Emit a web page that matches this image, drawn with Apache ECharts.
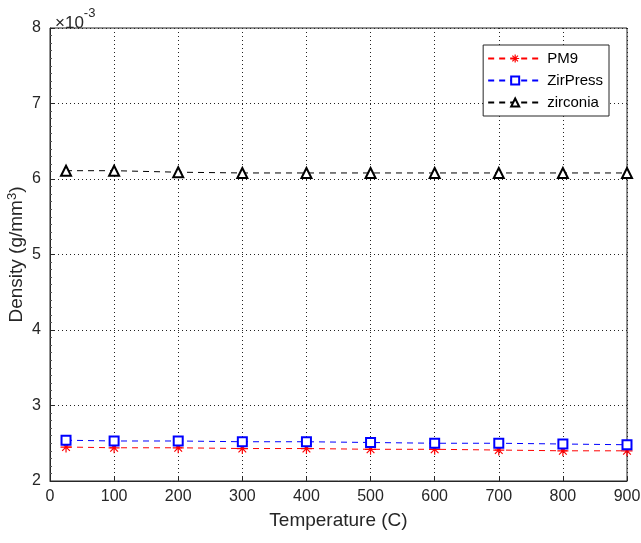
<!DOCTYPE html>
<html>
<head>
<meta charset="utf-8">
<script src="https://cdn.jsdelivr.net/npm/echarts@6/dist/echarts.min.js"></script>
<style>html,body{margin:0;padding:0;background:#fff}#c{width:641px;height:543px}</style>
</head>
<body>
<div id="c"></div>
<script>
var temperatures = [25, 100, 200, 300, 400, 500, 600, 700, 800, 900];
var pm9 = [2.45, 2.44, 2.44, 2.43, 2.43, 2.42, 2.42, 2.41, 2.40, 2.40];
var zirpress = [2.54, 2.53, 2.53, 2.52, 2.52, 2.51, 2.50, 2.50, 2.49, 2.48];
var zirconia = [6.11, 6.11, 6.09, 6.08, 6.08, 6.08, 6.08, 6.08, 6.08, 6.08];
var seriesNames = ['PM9', 'ZirPress', 'zirconia'];
var xTicks = [0, 100, 200, 300, 400, 500, 600, 700, 800, 900];
var yTicks = [2, 3, 4, 5, 6, 7, 8];

var chart = echarts.init(document.getElementById('c'));
var font = 'Arial, "Liberation Sans", sans-serif';
var txt = '#262626';
function mk(arr){ return temperatures.map(function(t,i){ return [t, arr[i]]; }); }
var asterisk = 'path://M0,5L10,5M5,0L5,10M1.5,1.5L8.5,8.5M8.5,1.5L1.5,8.5';
var common = { type: 'line', symbolSize: 9, showAllSymbol: true };
chart.setOption({
  animation: false,
  backgroundColor: '#fff',
  textStyle: { fontFamily: font },
  title: {
    text: '{a|×10}{s|-3}', left: 50, top: 2,
    textStyle: { fontWeight: 'normal', rich: {
      a: { fontSize: 17, color: txt, fontFamily: font, fontWeight: 'normal', verticalAlign: 'bottom', padding: [8,0,0,0] },
      s: { fontSize: 13, color: txt, fontFamily: font, fontWeight: 'normal', verticalAlign: 'top', padding: [0,0,7,0] }
    } }
  },
  grid: { left: 50, right: 14, top: 28, bottom: 62, show: true, borderColor: '#262626', borderWidth: 1, containLabel: false, outerBoundsMode: 'none' },
  legend: {
    right: 32, top: 45, orient: 'vertical', itemGap: 7,
    itemWidth: 54, itemHeight: 10,
    backgroundColor: '#fff', borderColor: '#262626', borderWidth: 1,
    padding: [6, 6, 6, 4],
    textStyle: { fontSize: 15, color: '#000', fontFamily: font },
    data: [
      { name: seriesNames[0], itemStyle: { color: 'rgba(0,0,0,0)', borderColor: '#ff0000', borderWidth: 1.2 } },
      { name: seriesNames[1] },
      { name: seriesNames[2] }
    ]
  },
  xAxis: {
    type: 'value', min: 0, max: 900, interval: 100,
    name: 'Temperature (C)', nameLocation: 'middle', nameGap: 30,
    nameTextStyle: { fontSize: 19, color: txt, fontFamily: font },
    axisLine: { show: true, lineStyle: { color: '#262626' } },
    axisTick: { show: true, inside: true, length: 5, lineStyle: { color: '#262626' } },
    axisLabel: { fontSize: 16, color: txt, margin: 8, formatter: function(v){ return xTicks.indexOf(v) >= 0 ? String(v) : ''; } },
    splitLine: { show: true, lineStyle: { type: [1, 3], color: '#222', width: 1 } }
  },
  yAxis: {
    type: 'value', min: 2, max: 8, interval: 1,
    name: '{n|Density (g/mm}{s|3}{n|)}', nameLocation: 'middle', nameGap: 22, nameMoveOverlap: false,
    nameTextStyle: { rich: {
      n: { fontSize: 19, color: txt, fontFamily: font },
      s: { fontSize: 13, color: txt, fontFamily: font, verticalAlign: 'top', padding: [0,0,9,0] }
    } },
    axisLine: { show: true, lineStyle: { color: '#262626' } },
    axisTick: { show: true, inside: true, length: 5, lineStyle: { color: '#262626' } },
    minorTick: { show: true, splitNumber: 10, length: 2, lineStyle: { color: '#555' } },
    axisLabel: { fontSize: 16, color: txt, margin: 9, formatter: function(v){ return yTicks.indexOf(v) >= 0 ? String(v) : ''; } },
    splitLine: { show: true, lineStyle: { type: [1, 3], color: '#222', width: 1 } }
  },
  series: [
    Object.assign({}, common, {
      name: seriesNames[0], data: mk(pm9), symbol: asterisk, symbolSize: 11,
      lineStyle: { color: '#ff0000', type: [6, 5], width: 1 },
      itemStyle: { color: 'rgba(0,0,0,0)', borderColor: '#ff0000', borderWidth: 1.2 }
    }),
    Object.assign({}, common, {
      name: seriesNames[1], data: mk(zirpress), symbol: 'emptyRect', symbolSize: 9,
      lineStyle: { color: '#0000ff', type: [6, 5], width: 1 },
      itemStyle: { color: '#0000ff', borderColor: '#0000ff', borderWidth: 1.2 }
    }),
    Object.assign({}, common, {
      name: seriesNames[2], data: mk(zirconia), symbol: 'emptyTriangle', symbolSize: 10,
      lineStyle: { color: '#000000', type: [6, 5], width: 1 },
      itemStyle: { color: '#000000', borderColor: '#000000', borderWidth: 1.2 }
    })
  ]
});
</script>
</body>
</html>
